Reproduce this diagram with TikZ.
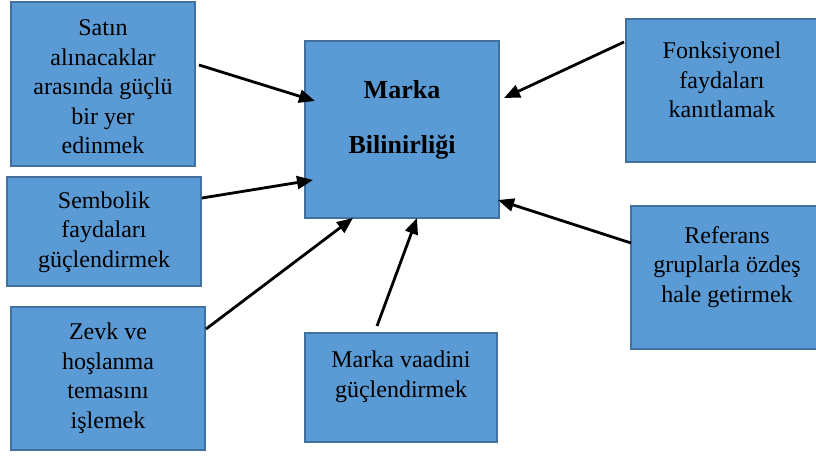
\documentclass[tikz,border=0pt]{standalone}
\usepackage{fontspec}
\setmainfont{Liberation Serif}
\usetikzlibrary{arrows.meta,calc}
\definecolor{boxfill}{HTML}{5B9BD5}
\definecolor{boxline}{HTML}{41719C}
\tikzset{
  bluebox/.style={draw=boxline, fill=boxfill, line width=2pt, rectangle, inner sep=0pt},
  boxtext/.style={align=center, inner sep=0pt, font=\fontsize{24}{29.5}\selectfont},
  arr/.style={line width=2.8pt, -{Triangle[length=16pt,width=13pt]}}
}
\begin{document}
\begin{tikzpicture}[x=1pt,y=-1pt]
\useasboundingbox (0,0) rectangle (816,455);
\clip (0,0) rectangle (816,455);
% boxes
\node[bluebox, minimum width=184pt, minimum height=164pt] (satin) at (103,84) {};
\node[bluebox, minimum width=194pt, minimum height=109pt] (semb) at (104,231.5) {};
\node[bluebox, minimum width=194pt, minimum height=143pt] (zevk) at (108,378.5) {};
\node[bluebox, minimum width=194pt, minimum height=177pt] (marka) at (402,129.5) {};
\node[bluebox, minimum width=194pt, minimum height=143pt] (fonk) at (723,90.5) {};
\node[bluebox, minimum width=194pt, minimum height=143pt] (ref) at (728,277.5) {};
\node[bluebox, minimum width=192pt, minimum height=109pt] (vaad) at (401,387.5) {};
% texts
\node[boxtext] (satinT) at (103,87) {Satın\\alınacaklar\\arasında güçlü\\bir yer\\edinmek};
\node[boxtext] (sembT) at (104,232) {Sembolik\\faydaları\\güçlendirmek};
\node[boxtext] (zevkT) at (108,378) {Zevk ve\\hoşlanma\\temasını\\işlemek};
\node[align=center, inner sep=0pt, font=\fontsize{26}{55}\selectfont\bfseries] (markaT) at (402,120) {Marka\\Bilinirliği};
\node[boxtext] (fonkT) at (722,80) {Fonksiyonel\\faydaları\\kanıtlamak};
\node[boxtext] (refT) at (727,267) {Referans\\gruplarla özdeş\\hale getirmek};
\node[boxtext] (vaadT) at (401,377) {Marka vaadini\\güçlendirmek};
% arrows
\draw[arr] ([shift={(3,-19)}]satin.east) -- ([shift={(11,-28.5)}]marka.west);
\draw[arr] ([shift={(0,-33.5)}]semb.east) -- ([shift={(9,50.5)}]marka.west);
\draw[arr] ([shift={(0,-49.5)}]zevk.east) -- ([shift={(-49,-1)}]marka.south);
\draw[arr] ([shift={(-24,-6)}]vaad.north) -- ([shift={(15,-1)}]marka.south);
\draw[arr] ([shift={(1,-34.5)}]ref.west) -- ([shift={(-2,70.5)}]marka.east);
\draw[arr] ([shift={(-1,-48.5)}]fonk.west) -- ([shift={(4,-31.5)}]marka.east);
\end{tikzpicture}
\end{document}
